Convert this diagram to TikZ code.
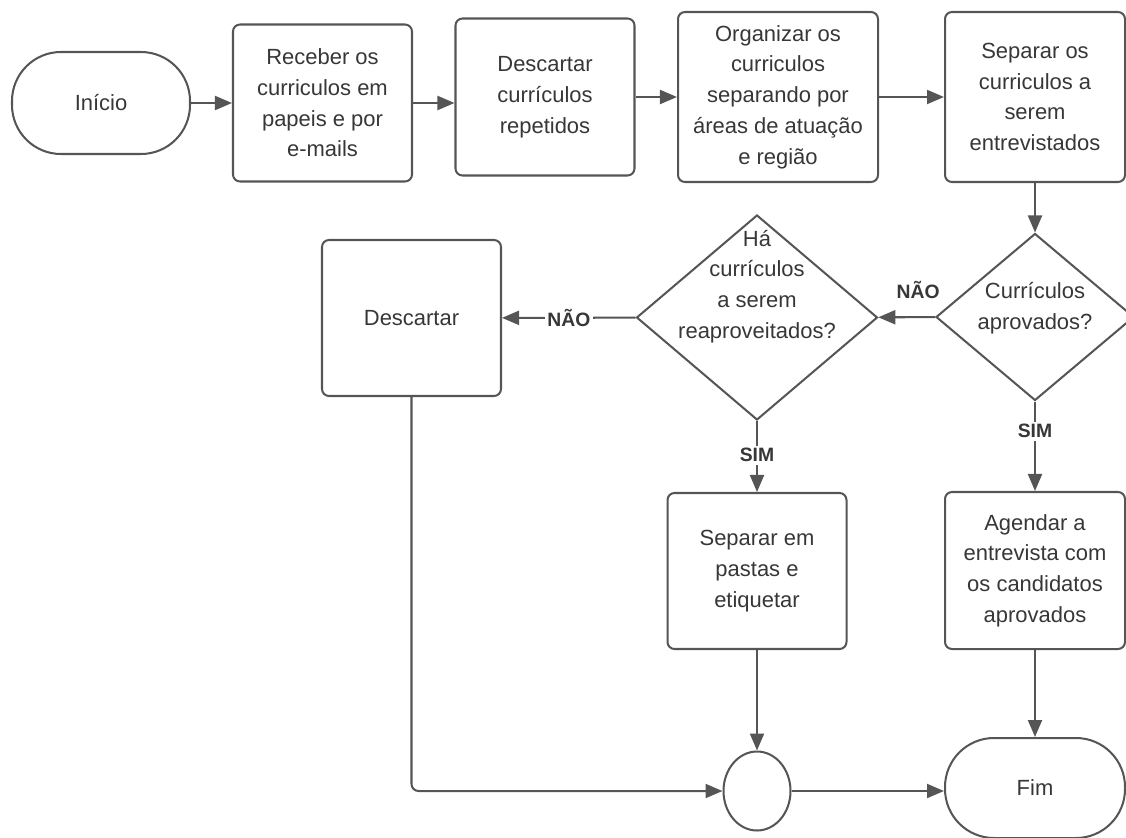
\documentclass[tikz,border=0pt]{standalone}
\usepackage{fontspec}
\setmainfont{Liberation Sans}
\usetikzlibrary{shapes.geometric, arrows.meta, positioning}
\definecolor{linegray}{RGB}{85,85,85}
\definecolor{textgray}{RGB}{55,55,55}

\begin{document}
\begin{tikzpicture}[
    process/.style={draw=linegray, line width=1.15pt, rounded corners=4pt, minimum width=3.58cm, minimum height=3.14cm, align=center, text=textgray, font=\fontsize{12.5}{17.5}\selectfont},
    terminal/.style={process, rounded corners=0.98cm, minimum height=2.04cm},
    decision/.style={draw=linegray, line width=1.15pt, diamond, inner sep=0pt},
    decisiontext/.style={align=center, text=textgray, font=\fontsize{12.5}{17.5}\selectfont},
    junction/.style={draw=linegray, line width=1.15pt, ellipse, inner sep=0pt, minimum width=1.34cm, minimum height=1.58cm},
    answer/.style={font=\bfseries\fontsize{11}{13}\selectfont, text=textgray, fill=white, inner sep=1.5pt},
    arrow/.style={-{Triangle[length=3.4mm, width=2.8mm]}, line width=1.15pt, draw=linegray}
]
    \useasboundingbox (0,0) rectangle (22.52,-16.74);

    % Top row
    \node[terminal, minimum width=3.56cm] (inicio) at (2.02,-2.06) {Início};
    \node[process] (receber) at (6.45,-2.06) {Receber os\\curriculos em\\papeis e por\\e-mails};
    \node[process] (repetidos) at (10.90,-1.94) {Descartar\\currículos\\repetidos};
    \node[process, minimum width=4cm, minimum height=3.4cm] (organizar) at (15.56,-1.94) {Organizar os\\curriculos\\separando por\\áreas de atuação\\e região};
    \node[process, minimum width=3.6cm, minimum height=3.4cm] (separar) at (20.70,-1.94) {Separar os\\curriculos a\\serem\\entrevistados};

    % Decisions
    \node[decision, minimum width=3.96cm, minimum height=3.34cm,
        label={[decisiontext, yshift=0.18cm]center:Currículos\\aprovados?}] (aprovados) at (20.70,-6.34) {};
    \node[decision, minimum width=4.82cm, minimum height=4.1cm,
        label={[decisiontext, yshift=0.62cm]center:Há\\currículos\\a serem\\reaproveitados?}] (reaproveitar) at (15.14,-6.35) {};
    \node[process, minimum height=3.12cm] (descartar) at (8.23,-6.36) {Descartar};

    % Bottom part
    \node[process, minimum height=3.12cm] (pastas) at (15.14,-11.42) {Separar em\\pastas e\\etiquetar};
    \node[process, minimum width=3.6cm] (agendar) at (20.70,-11.41) {Agendar a\\entrevista com\\os candidatos\\aprovados};
    \node[junction] (juncao) at (15.14,-15.82) {};
    \node[terminal, minimum width=3.6cm, minimum height=2cm] (fim) at (20.70,-15.76) {Fim};

    % Connections
    \draw[arrow] (inicio) -- (receber);
    \draw[arrow] (receber.east) -- (receber.east -| repetidos.west);
    \draw[arrow] (repetidos) -- (organizar);
    \draw[arrow] (organizar) -- (separar);
    \draw[arrow] (separar) -- (aprovados);
    \draw[arrow] (aprovados) -- node[answer, pos=0.33] {SIM} (agendar);
    \draw[arrow] (aprovados) -- node[answer, fill=none, above=0.3cm, pos=0.3] {NÃO} (reaproveitar);
    \draw[arrow] (reaproveitar) -- node[answer] {NÃO} (descartar);
    \draw[arrow] (reaproveitar) -- node[answer, pos=0.48] {SIM} (pastas);
    \draw[arrow] (pastas) -- (juncao);
    \draw[arrow] (agendar) -- (fim);
    \draw[arrow, rounded corners=4pt] (descartar) |- (juncao);
    \draw[arrow] (juncao) -- (juncao -| fim.west);
\end{tikzpicture}
\end{document}
